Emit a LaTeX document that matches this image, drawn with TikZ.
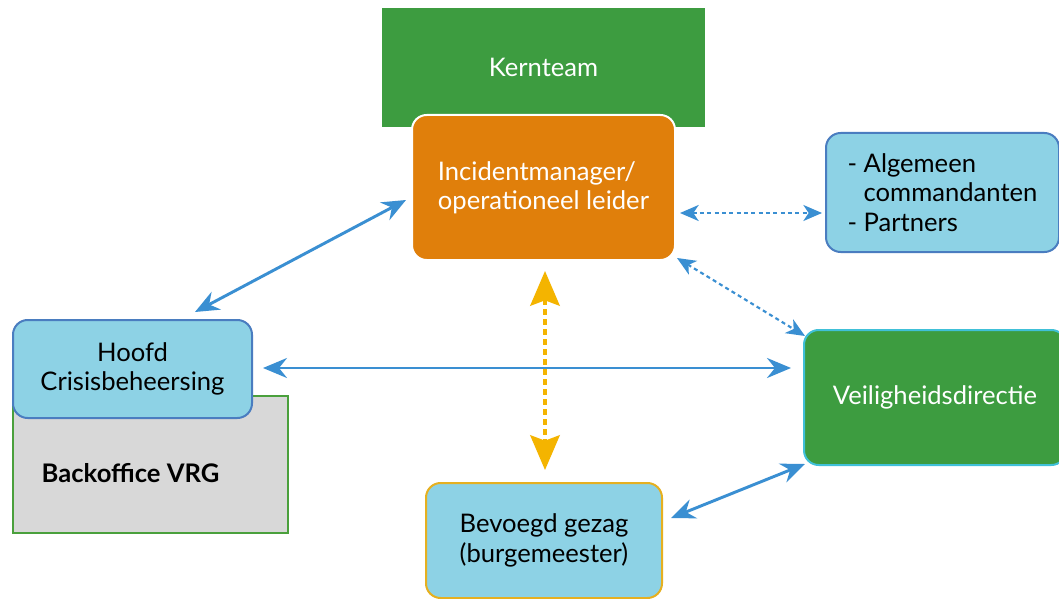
\documentclass[tikz,border=0pt]{standalone}
\usepackage{fontspec}
\setmainfont{Lato}
\usetikzlibrary{arrows.meta,positioning,calc}
\definecolor{kgreen}{RGB}{61,156,64}
\definecolor{korange}{RGB}{224,127,11}
\definecolor{klblue}{RGB}{141,210,229}
\definecolor{kborder}{RGB}{74,125,192}
\definecolor{karrow}{RGB}{58,143,210}
\definecolor{kyellow}{RGB}{244,180,0}
\definecolor{kgold}{RGB}{230,176,32}
\definecolor{kcyan}{RGB}{64,192,216}
\definecolor{kgrey}{RGB}{216,216,216}
\definecolor{koffice}{RGB}{74,160,60}

\begin{document}
\begin{tikzpicture}[x=0.75pt,y=-0.75pt,
    box/.style={rounded corners=11pt, line width=1.5pt, align=center, inner sep=0pt,
      font=\fontsize{19.2}{22}\selectfont},
    lightbox/.style={box, fill=klblue, draw=kborder},
    solidarrow/.style={karrow, line width=2.2pt, {Stealth[length=18pt,width=15pt,inset=6pt]}-{Stealth[length=18pt,width=15pt,inset=6pt]}},
    dotarrow/.style={karrow, line width=1.6pt, dash pattern=on 3pt off 2.5pt,
      {Stealth[length=14pt,width=12pt,inset=4pt]}-{Stealth[length=14pt,width=12pt,inset=4pt]}},
    gezagarrow/.style={kyellow, line width=3pt, dash pattern=on 4.5pt off 3pt,
      {Stealth[length=26pt,width=22pt,inset=4pt]}-{Stealth[length=26pt,width=22pt,inset=4pt]}}]
    \useasboundingbox[fill=white] (0,0) rectangle (1059,599);
    % Top: kernteam with incidentmanager over it
    \node[box, rounded corners=0pt, fill=kgreen, text=white, minimum width=323*0.75pt, minimum height=119*0.75pt] (kern) at (543.5,67.5) {Kernteam};
    \node[box, fill=korange, draw=white, text=white, align=left, minimum width=263*0.75pt, minimum height=145*0.75pt] (incident) at (543.5,187.5) {Incidentmanager/\\operationeel leider};
    % Right side
    \node[lightbox, align=left, text=black, minimum width=233*0.75pt, minimum height=119*0.75pt] (alg) at (942.5,192.5) {- Algemeen\\\phantom{- }commandanten\\- Partners};
    \node[box, fill=kgreen, draw=kcyan, text=white, minimum width=262*0.75pt, minimum height=135*0.75pt] (veilig) at (935,397.5) {Veiligheidsdirectie};
    % Left side: backoffice under hoofd
    \node[box, rounded corners=0pt, fill=kgrey, draw=koffice, minimum width=275*0.75pt, minimum height=137*0.75pt] (backoffice) at (150.5,464.5) {};
    \node[anchor=west, font=\fontsize{19.2}{22}\selectfont\bfseries] (backlabel) at ($(backoffice.west)+(25,9)$) {Backoffice VRG};
    \node[lightbox, minimum width=239*0.75pt, minimum height=98*0.75pt] (hoofd) at (132.5,369) {Hoofd\\Crisisbeheersing};
    % Bottom
    \node[lightbox, draw=kgold, minimum width=236*0.75pt, minimum height=115*0.75pt] (bev) at (544,540.5) {Bevoegd gezag\\(burgemeester)};
    % Arrows
    \draw[solidarrow] ($(hoofd.north)+(62.5,-7)$) -- ($(incident.west)+(-5,12.5)$);
    \draw[solidarrow] ($(hoofd.east)+(10,-1)$) -- ($(hoofd.east -| veilig.west)+(-12,-1)$);
    \draw[solidarrow] ($(veilig.south west)+(2,-2)$) -- ($(bev.east)+(8,-22.5)$);
    \draw[dotarrow] ($(incident.east)+(4,25.5)$) -- ($(alg.west)+(-3,20.5)$);
    \draw[dotarrow] ($(incident.south east)+(1,-3)$) -- ($(veilig.north west)+(2,7)$);
    \draw[gezagarrow] ($(incident.south)+(1.5,10)$) -- ($(bev.north)+(1,-12)$);
\end{tikzpicture}
\end{document}
